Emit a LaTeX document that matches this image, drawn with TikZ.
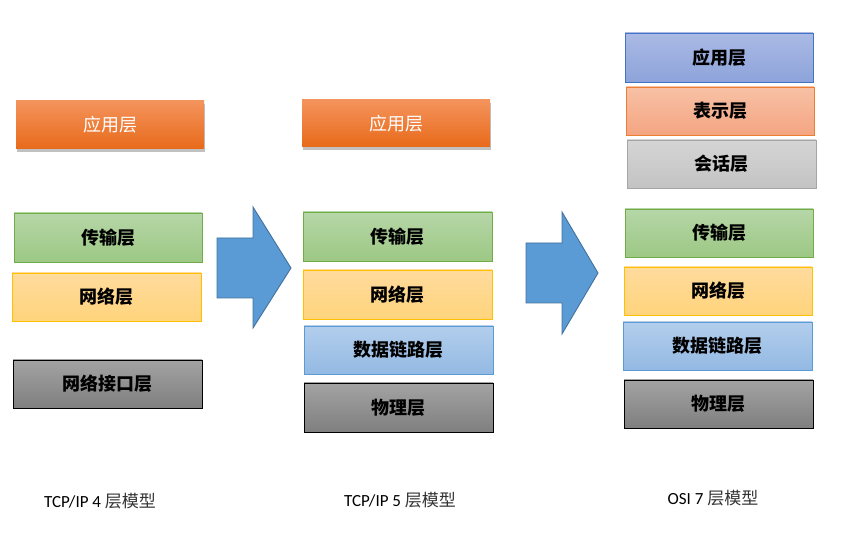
\documentclass[tikz,border=0pt]{standalone}
\usepackage{fontspec}
\setmainfont{Carlito}
\newfontfamily\cjk{Noto Sans CJK SC}
\newfontfamily\capfont{Carlito}
\usetikzlibrary{shadows}
\definecolor{orT}{HTML}{F4935C}
\definecolor{orB}{HTML}{E86A1A}
\definecolor{grT}{HTML}{B6D6A7}
\definecolor{grB}{HTML}{9CC884}
\definecolor{grD}{HTML}{70AD47}
\definecolor{yeT}{HTML}{FFDB9D}
\definecolor{yeB}{HTML}{FFD47C}
\definecolor{yeD}{HTML}{FFC000}
\definecolor{blT}{HTML}{B3CEEC}
\definecolor{blB}{HTML}{93B9E3}
\definecolor{blD}{HTML}{5B9BD5}
\definecolor{gyT}{HTML}{A3A3A3}
\definecolor{gyB}{HTML}{7F7F7F}
\definecolor{puT}{HTML}{AABAE4}
\definecolor{puB}{HTML}{8DA3DA}
\definecolor{puD}{HTML}{4472C4}
\definecolor{pkT}{HTML}{F8C1A6}
\definecolor{pkB}{HTML}{F4A582}
\definecolor{pkD}{HTML}{ED7D31}
\definecolor{lgT}{HTML}{D5D5D5}
\definecolor{lgB}{HTML}{C3C3C3}
\definecolor{lgD}{HTML}{A5A5A5}
\definecolor{arF}{HTML}{5B9BD5}
\definecolor{arD}{HTML}{41719C}
\newcommand\layerbox[7]{%
  \node[layer,#6,minimum width={(#4-#2)*1pt},minimum height={(#5-#3)*1pt}]
    (#1) at ({(#2+#4)/2},{(#3+#5)/2}) {#7};}
\begin{document}
\begin{tikzpicture}[x=1pt,y=-1pt,
  layer/.style={inner sep=0pt,outer sep=0pt,line width=0.9pt,
    font=\cjk\bfseries\fontsize{18}{18}\selectfont},
  orangebox/.style={top color=orT,bottom color=orB,text=white,
    font=\cjk\fontsize{18}{18}\selectfont,
    drop shadow={shadow xshift=0.5pt,shadow yshift=-3pt,opacity=0.35,fill=black!70}},
  greenbox/.style={top color=grT,bottom color=grB,draw=grD},
  yellowbox/.style={top color=yeT,bottom color=yeB,draw=yeD},
  bluebox/.style={top color=blT,bottom color=blB,draw=blD},
  graybox/.style={top color=gyT,bottom color=gyB,draw=black},
  purplebox/.style={top color=puT,bottom color=puB,draw=puD},
  pinkbox/.style={top color=pkT,bottom color=pkB,draw=pkD},
  lightbox/.style={top color=lgT,bottom color=lgB,draw=lgD},
  bigarrow/.style={fill=arF,draw=arD,line width=0.9pt,line join=miter},
  caption/.style={inner sep=0pt,font=\capfont\fontsize{17}{17}\selectfont}]
\useasboundingbox (0,0) rectangle (855,534);
% column 1
\layerbox{a1}{16}{101}{204}{149}{orangebox}{应用层}
\layerbox{t1}{14}{213}{202}{262}{greenbox}{传输层}
\layerbox{n1}{12}{273}{201}{321}{yellowbox}{网络层}
\layerbox{i1}{13}{360}{202}{408}{graybox}{网络接口层}
% column 2
\layerbox{a2}{302}{100}{490}{147}{orangebox}{应用层}
\layerbox{t2}{303}{212}{492}{261}{greenbox}{传输层}
\layerbox{n2}{303}{270}{492}{319}{yellowbox}{网络层}
\layerbox{d2}{304}{326}{493}{374}{bluebox}{数据链路层}
\layerbox{p2}{304}{383}{493}{432}{graybox}{物理层}
% column 3
\layerbox{a3}{625}{33}{813}{82}{purplebox}{应用层}
\layerbox{r3}{626}{87}{814}{135}{pinkbox}{表示层}
\layerbox{s3}{627}{140}{816}{188}{lightbox}{会话层}
\layerbox{t3}{625}{209}{813}{257}{greenbox}{传输层}
\layerbox{n3}{624}{267}{812}{315}{yellowbox}{网络层}
\layerbox{d3}{623}{322}{812}{370}{bluebox}{数据链路层}
\layerbox{p3}{624}{380}{813}{428}{graybox}{物理层}
% arrows
\draw[bigarrow] (217,238) -- (253,238) -- (253,207) -- (291,268) -- (253,328)
  -- (253,298) -- (217,298) -- cycle;
\draw[bigarrow] (526,243) -- (562,243) -- (562,212) -- (598,273) -- (562,334)
  -- (562,303) -- (526,303) -- cycle;
% captions
\node[caption] (c1) at (100,501) {TCP/IP 4 {\cjk\color{black!80}层模型}};
\node[caption] (c2) at (400,500) {TCP/IP 5 {\cjk\color{black!80}层模型}};
\node[caption] (c3) at (713,498) {OSI 7 {\cjk\color{black!80}层模型}};
\end{tikzpicture}
\end{document}
